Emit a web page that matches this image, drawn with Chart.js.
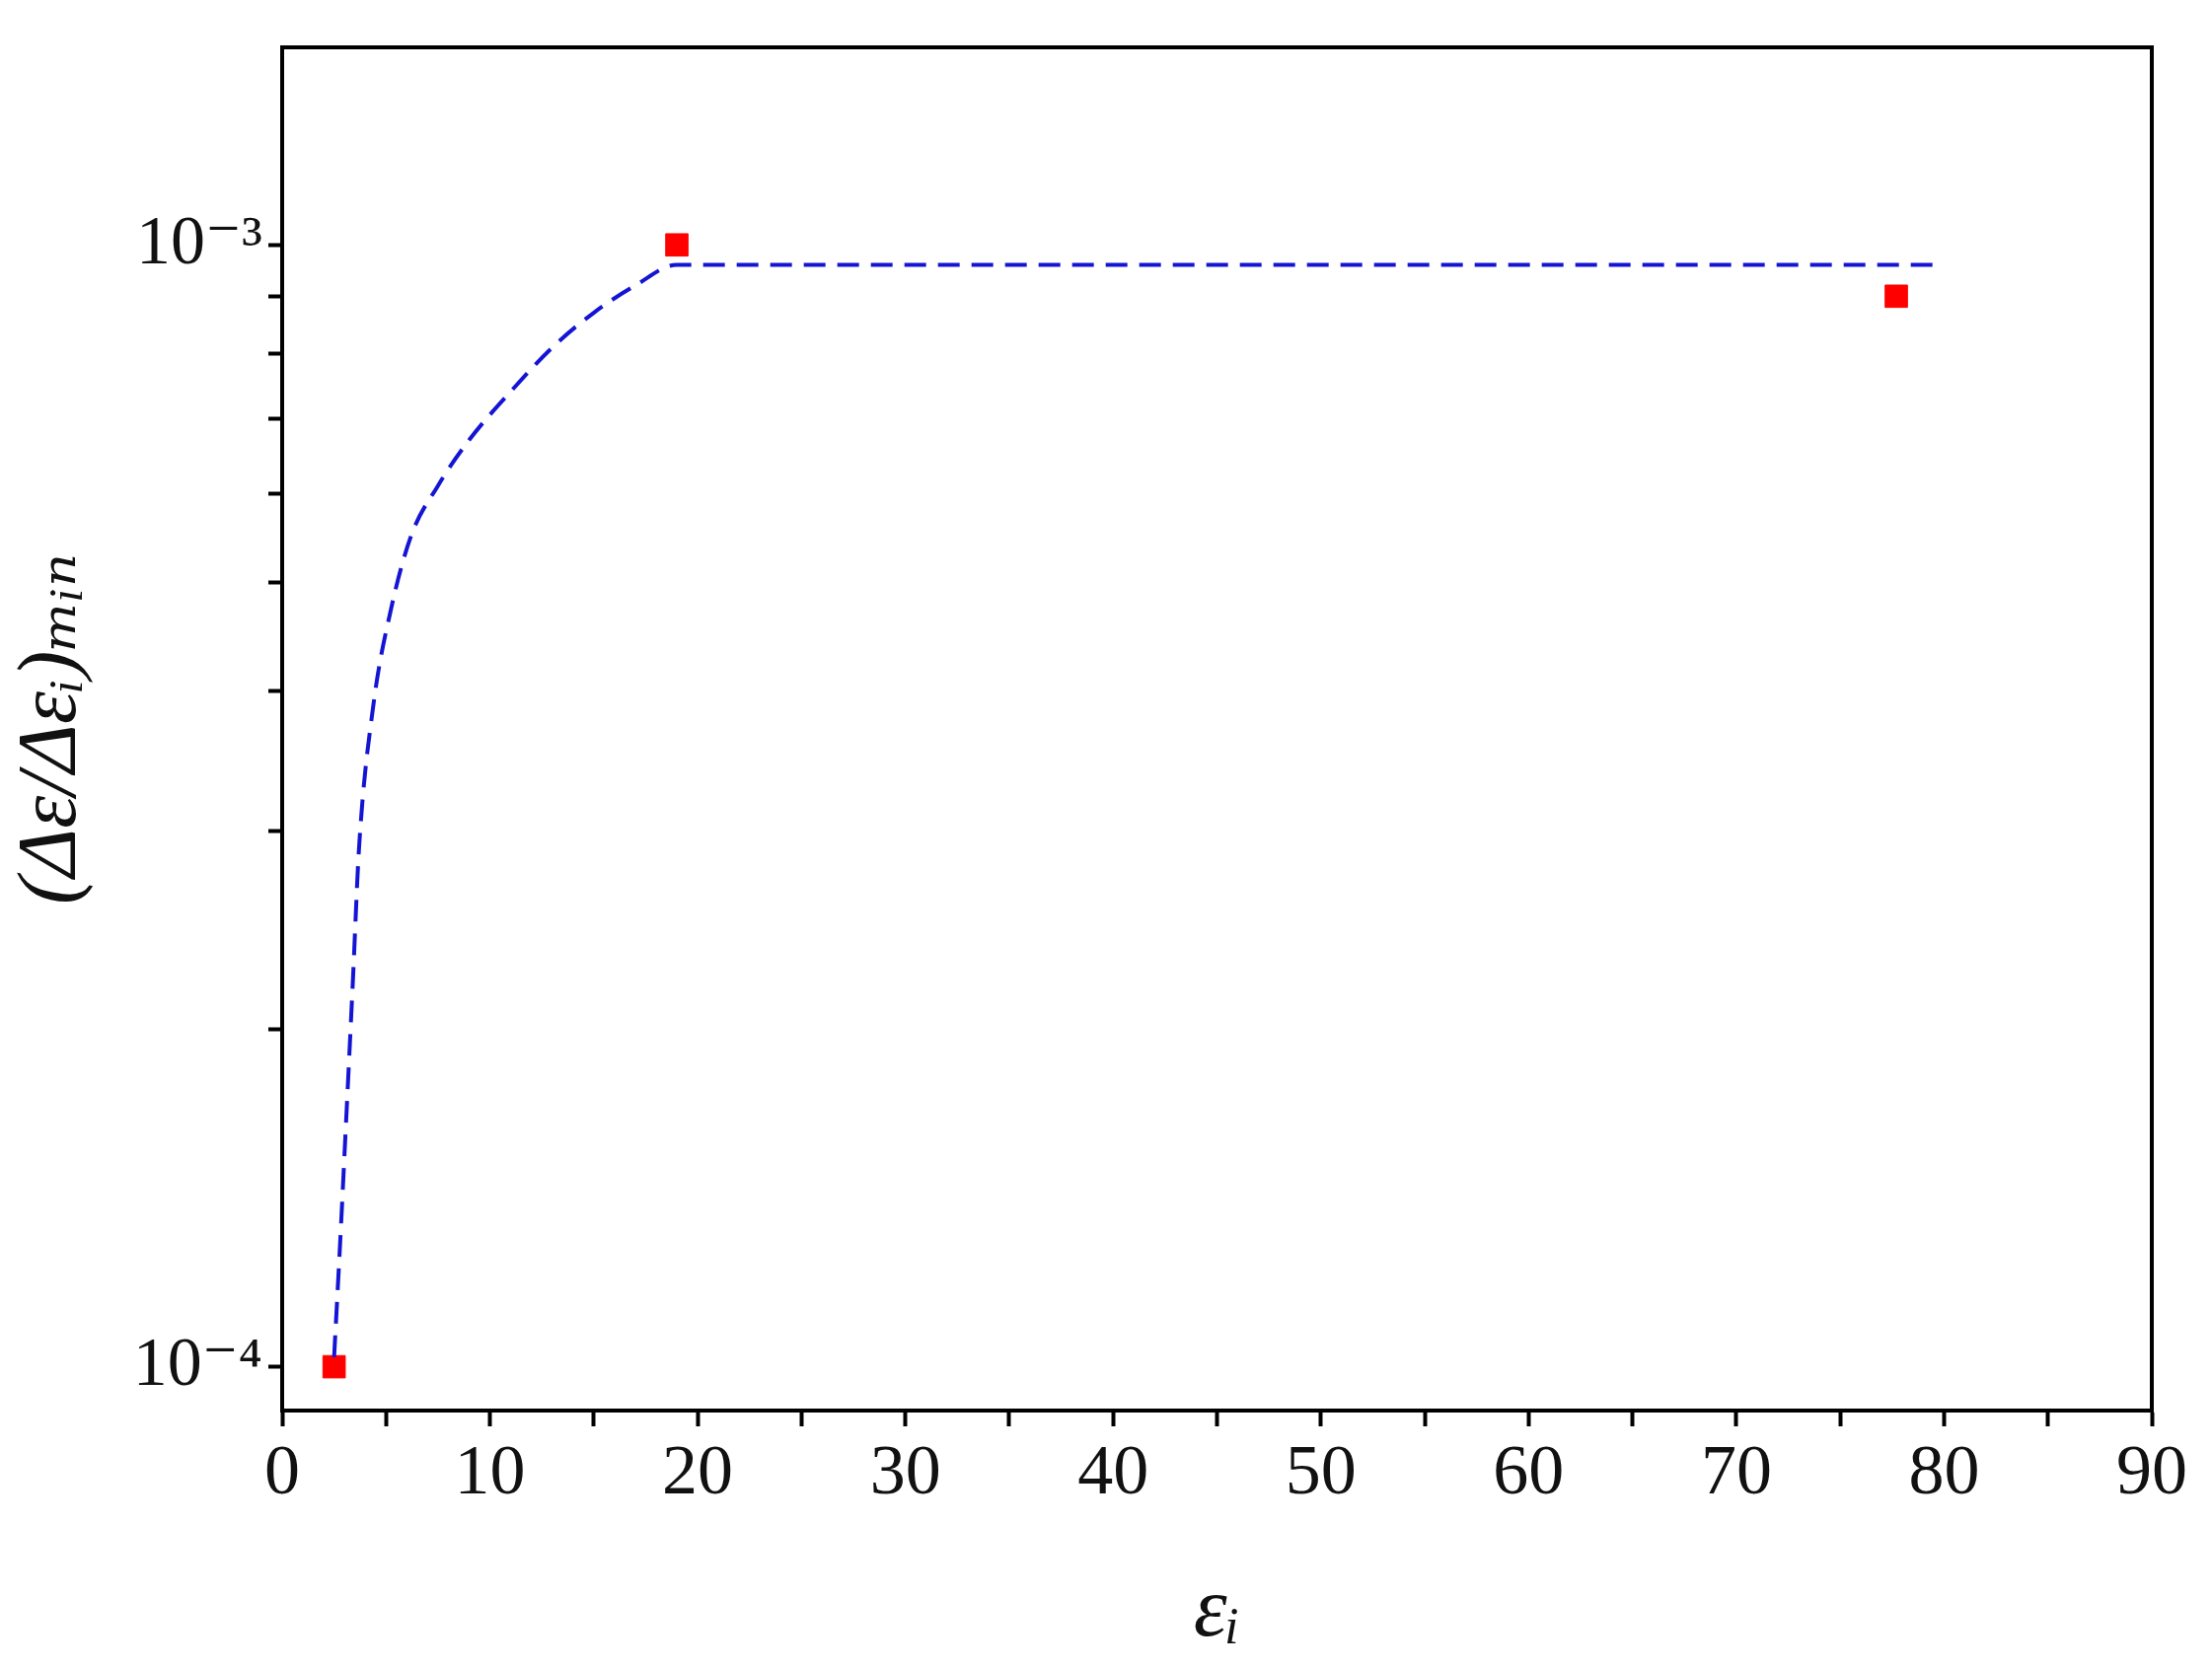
<!DOCTYPE html>
<html><head><meta charset="utf-8">
<script src="https://cdn.jsdelivr.net/npm/chart.js@4"></script>
<style>html,body{margin:0;padding:0;background:#fff}#c{display:block}</style>
</head><body>
<canvas id="c" width="2242" height="1691"></canvas>
<script>
const pointX = [2.5, 19, 77.7];
const pointY = [1.0e-4, 1.0e-3, 9.0e-4];
const fitX = [2.5, 2.8, 3.06, 3.4, 3.7, 4.4, 5.2, 6.2, 7.5, 9, 11, 13, 15, 17, 19, 50, 80];
const fitY = [1.02e-4, 1.3e-4, 1.63e-4, 2.2e-4, 2.9e-4, 3.9e-4, 4.7e-4, 5.5e-4, 6.1e-4, 6.7e-4, 7.4e-4, 8.1e-4, 8.7e-4, 9.2e-4, 9.6e-4, 9.6e-4, 9.6e-4];
const yTicks = [1e-4,2e-4,3e-4,4e-4,5e-4,6e-4,7e-4,8e-4,9e-4,1e-3];
const yLabels = {"0.0001":"10⁻⁴","0.001":"10⁻³"};
const xLabels = [0,10,20,30,40,50,60,70,80,90];

const frame = {id:'frame', afterDraw(ch){const a=ch.chartArea,c=ch.ctx;c.save();c.strokeStyle='#000';c.lineWidth=4;c.strokeRect(a.left,a.top,a.right-a.left,a.bottom-a.top);c.restore();}};
const serif = "'Liberation Serif','DejaVu Serif',serif";
new Chart(document.getElementById('c'), {
  type:'scatter',
  data:{datasets:[
    {data:fitX.map((x,i)=>({x,y:fitY[i]})), showLine:true, borderColor:'#1414d4', borderWidth:4, borderDash:[22,12], pointRadius:0, cubicInterpolationMode:'monotone', fill:false},
    {data:pointX.map((x,i)=>({x,y:pointY[i]})), pointStyle:'rect', pointRadius:16, backgroundColor:'#ff0000', borderColor:'#ff0000'}
  ]},
  options:{responsive:false, animation:false, devicePixelRatio:1,
    layout:{padding:{top:47,right:61,left:0,bottom:0}},
    plugins:{legend:{display:false},tooltip:{enabled:false}},
    scales:{
      x:{type:'linear',min:0,max:90,
        afterBuildTicks(s){s.ticks=[];for(let v=0;v<=90;v+=5)s.ticks.push({value:v});},
        afterFit(s){s.height=1691-1430;},
        grid:{drawOnChartArea:false,tickLength:16,tickWidth:4,color:'#000'},
        border:{width:4,color:'#000'},
        ticks:{color:'#111',font:{family:serif,size:72},padding:6,callback:v=>xLabels.includes(v)?String(v):''},
        title:{display:true,text:'εᵢ',font:{family:serif,size:86,style:'italic'},color:'#111',padding:{top:0}}
      },
      y:{type:'logarithmic',min:9.14e-5,max:1.5e-3,
        afterBuildTicks(s){s.ticks=yTicks.map(v=>({value:v}));},
        afterFit(s){s.width=286;},
        grid:{drawOnChartArea:false,tickLength:14,tickWidth:4,color:'#000'},
        border:{width:4,color:'#000'},
        ticks:{color:'#111',font:{family:serif,size:70},padding:6,autoSkip:false,callback:v=>yLabels[String(v)]||''},
        title:{display:true,text:'(Δε/Δεᵢ)ₘᵢₙ',font:{family:serif,size:84,style:'italic'},color:'#111',padding:{bottom:12}}
      }
    }
  },
  plugins:[frame]
});
</script>
</body></html>
